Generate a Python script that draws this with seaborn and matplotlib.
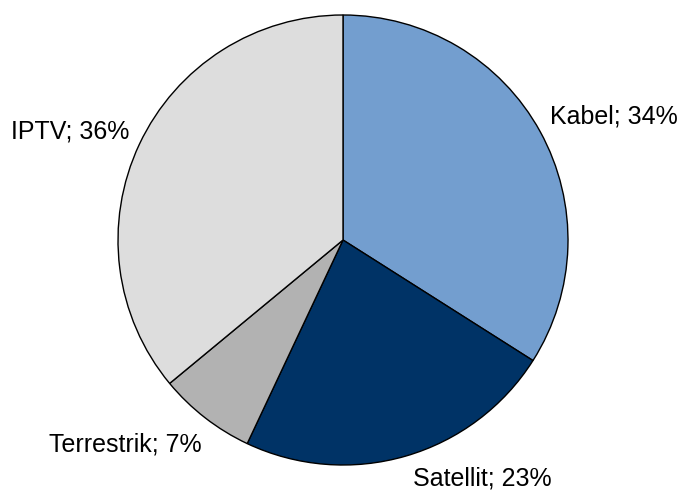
import matplotlib.pyplot as plt
import seaborn as sns
import numpy as np

sns.set_theme(style='white')
plt.rcParams['font.family'] = ['Liberation Sans', 'DejaVu Sans']

# data
categories = ['Kabel', 'Satellit', 'Terrestrik', 'IPTV']
shares = [34, 23, 7, 36]
colors = ['#739ECF', '#003366', '#B2B2B2', '#DDDDDD']
# label centres in units of pie radius
label_pos = [(1.204, 0.547), (0.618, -1.058), (-0.969, -0.911), (-1.213, 0.484)]

fig = plt.figure(figsize=(6.81, 4.94), dpi=100)
ax = fig.add_axes([0, 0, 1, 1])

wedges, _ = ax.pie(shares, colors=colors, startangle=90, counterclock=False,
                   radius=1, center=(0, 0),
                   wedgeprops=dict(edgecolor='black', linewidth=1.0))

for cat, val, (x, y) in zip(categories, shares, label_pos):
    ax.text(x, y, f'{cat}; {val}%', ha='center', va='center',
            fontsize=18, color='black')

ax.set_xlim(-343 / 225, (681 - 343) / 225)
ax.set_ylim(-(494 - 240) / 225, 240 / 225)
ax.set_aspect('auto')
ax.axis('off')

fig.savefig('out.png', dpi=100)
